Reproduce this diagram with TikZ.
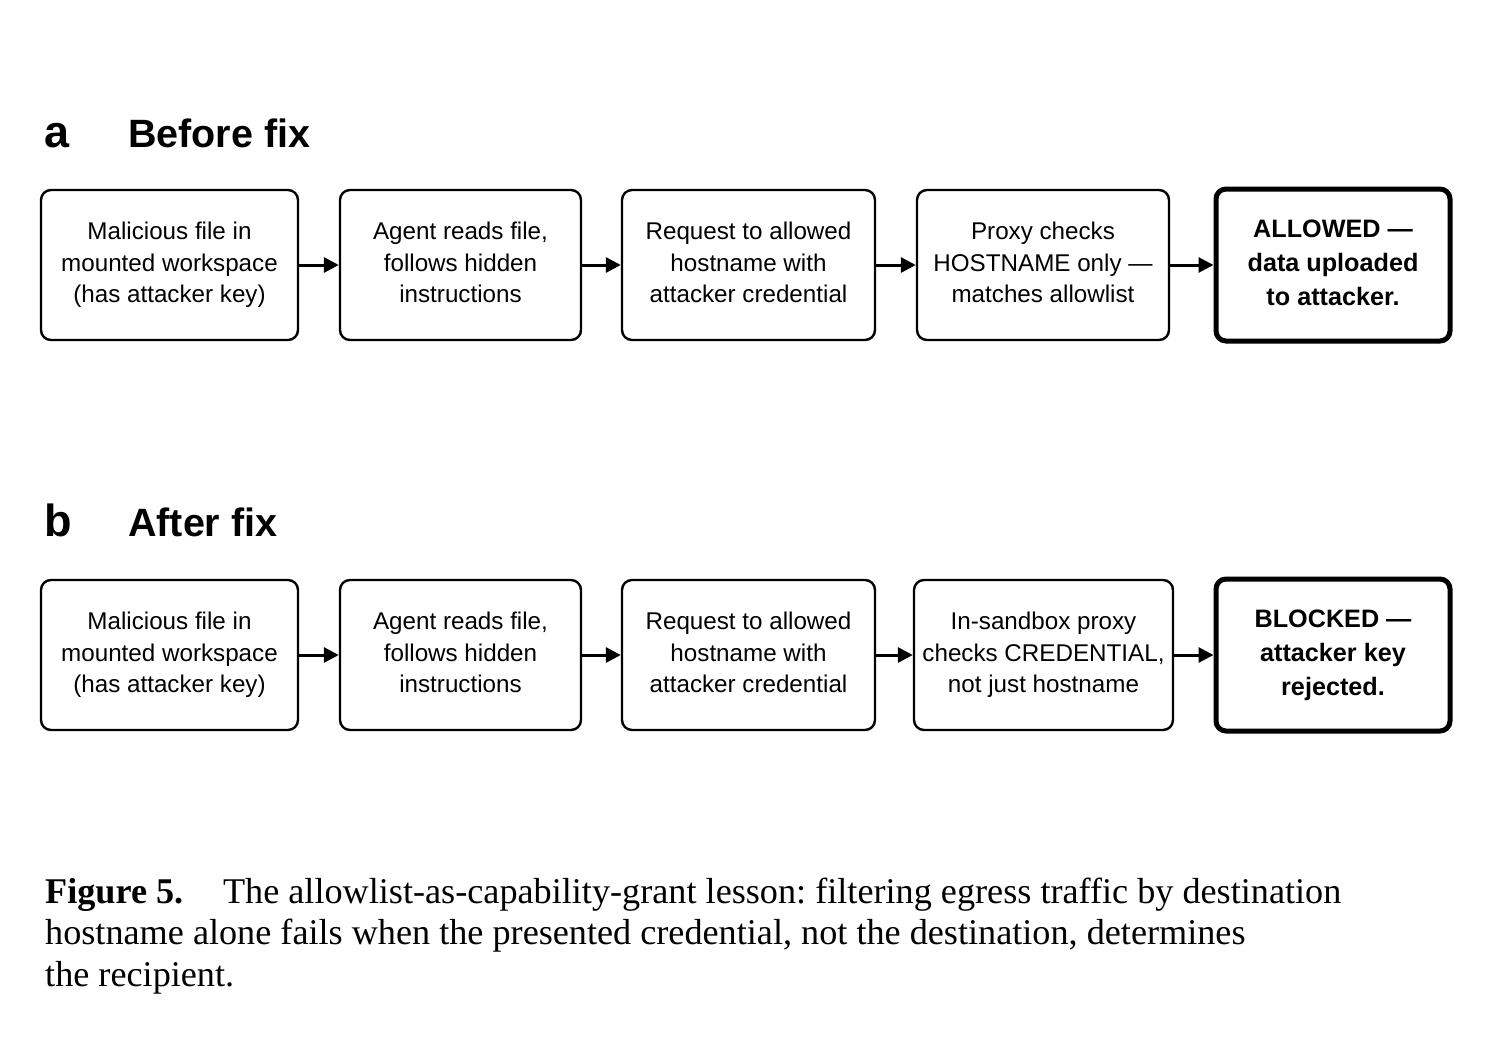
\documentclass[tikz,border=0pt]{standalone}
\usepackage{fontspec}
\setmainfont{Liberation Serif}
\setsansfont{Liberation Sans}
\usetikzlibrary{arrows.meta}

\begin{document}
\begin{tikzpicture}[x=1pt,y=-1pt,
      every node/.style={font=\sffamily\fontsize{24.2}{31.5}\selectfont,align=center},
      box/.style={draw,line width=2.4pt,rounded corners=10pt,minimum height=150pt,inner sep=0pt,
        execute at begin node=\rule{0pt}{24pt},execute at end node=\vphantom{(}},
      endbox/.style={box,line width=5pt,minimum height=152pt,font=\sffamily\bfseries\fontsize{25.2}{34}\selectfont},
      panel/.style={anchor=base west,inner sep=0pt,font=\sffamily\bfseries\fontsize{45}{45}\selectfont},
      heading/.style={anchor=base west,inner sep=0pt,font=\sffamily\bfseries\fontsize{39.5}{40}\selectfont},
      arr/.style={line width=3pt,-{Triangle[length=15pt,width=15pt]}}]
    \useasboundingbox (0,0) rectangle (1491,1055);
    % row a
    \node[panel] (la) at (44,147) {a};
    \node[heading] (ta) at (128,147) {Before fix};
    \node[box,minimum width=257pt] (a1) at (169.5,265) {Malicious file in\\mounted workspace\\(has attacker key)};
    \node[box,minimum width=241pt] (a2) at (460.5,265) {Agent reads file,\\follows hidden\\instructions};
    \node[box,minimum width=253pt] (a3) at (748.5,265) {Request to allowed\\hostname with\\attacker credential};
    \node[box,minimum width=252pt] (a4) at (1043,265) {Proxy checks\\HOSTNAME only ---\\matches allowlist};
    \node[endbox,minimum width=234pt] (a5) at (1333,265) {ALLOWED ---\\data uploaded\\to attacker.};
    % row b
    \node[panel] (lb) at (44,536) {b};
    \node[heading] (tb) at (128,536) {After fix};
    \node[box,minimum width=257pt] (b1) at (169.5,655) {Malicious file in\\mounted workspace\\(has attacker key)};
    \node[box,minimum width=241pt] (b2) at (460.5,655) {Agent reads file,\\follows hidden\\instructions};
    \node[box,minimum width=253pt] (b3) at (748.5,655) {Request to allowed\\hostname with\\attacker credential};
    \node[box,minimum width=259pt] (b4) at (1043.5,655) {In-sandbox proxy\\checks CREDENTIAL,\\not just hostname};
    \node[endbox,minimum width=234pt] (b5) at (1333,655) {BLOCKED ---\\attacker key\\rejected.};
    \foreach \i/\j in {1/2,2/3,3/4,4/5} {
      \draw[arr] (a\i) -- (a\j);
      \draw[arr] (b\i) -- (b\j);
    }
    % caption
    \node[anchor=base west,align=left,inner sep=0pt,font=\rmfamily\fontsize{36.2}{41.5}\selectfont\frenchspacing] (cap) at (45,986)
      {\textbf{Figure 5.}\hspace{1.1em}The allowlist-as-capability-grant lesson: filtering egress traffic by destination\\
       hostname alone fails when the presented credential, not the destination, determines\\
       the recipient.};
\end{tikzpicture}
\end{document}
